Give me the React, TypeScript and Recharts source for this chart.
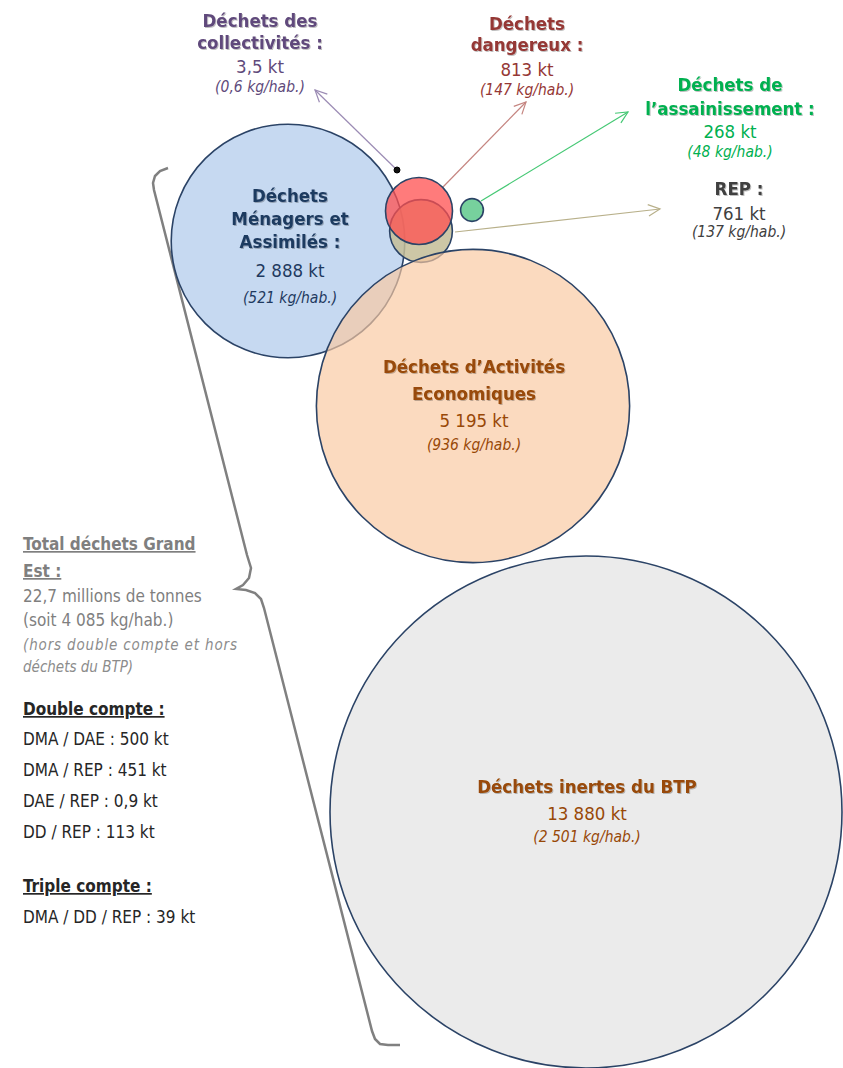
import React from 'react';
import { ScatterChart, Scatter, XAxis, YAxis, ZAxis, ReferenceLine } from 'recharts';

const W = 843;
const H = 1068;
const FONT = "'DejaVu Sans Condensed', 'DejaVu Sans', sans-serif";

// main deposits (kt) - bubble area proportional to tonnage
const stockKeys = ['DMA', 'DAE', 'BTP'];
const stockKt = [2888, 5195, 13880];
const stockKgHab = [521, 936, 2501];
const stockX = [288, 473, 586];
const stockY = [241, 406, 812];

// smaller flows (kt) - drawn with radius proportional to tonnage
const fluxKeys = ['ASS', 'REP', 'DD', 'COL'];
const fluxKt = [268, 761, 813, 3.5];
const fluxKgHab = [48, 137, 147, 0.6];
const fluxX = [472, 421, 419, 397];
const fluxY = [210, 231, 211, 170];

// totals and overlaps
const totalMt = 22.7;
const totalKgHab = 4085;
const doubleLabels = ['DMA / DAE', 'DMA / REP', 'DAE / REP', 'DD / REP'];
const doubleKt = [500, 451, 0.9, 113];
const tripleLabels = ['DMA / DD / REP'];
const tripleKt = [39];

// curly brace path (same chart coordinates)
const braceX = [168, 160, 155, 153, 154, 247, 251, 249, 243, 236, 246, 255, 261, 264, 372, 375, 380, 388, 400];
const braceY = [168, 171, 176, 183, 190, 555, 568, 578, 585, 589, 590, 593, 599, 608, 1031, 1039, 1044, 1045, 1045];

const styles: Record<string, { fill: string; opacity: number; stroke: string; text: string; arrow?: string }> = {
  DMA: { fill: '#c6d9f1', opacity: 1, stroke: '#2b4366', text: '#1f3a60' },
  DAE: { fill: '#f9c9a0', opacity: 0.68, stroke: '#2b4366', text: '#984807' },
  BTP: { fill: '#ebebeb', opacity: 1, stroke: '#2b4366', text: '#984807' },
  ASS: { fill: '#77d19d', opacity: 1, stroke: '#2b4366', text: '#00b050', arrow: '#45c874' },
  REP: { fill: '#c4bd97', opacity: 0.85, stroke: '#2b4366', text: '#404040', arrow: '#b8b08a' },
  DD: { fill: '#ff4f4f', opacity: 0.75, stroke: '#2b4366', text: '#953735', arrow: '#c58580' },
  COL: { fill: '#111111', opacity: 1, stroke: '#000000', text: '#604a7b', arrow: '#9b8bb4' },
};

// arrow tips, in the same order as the flux arrays
const arrowFromX = [481, 455, 443, 397];
const arrowFromY = [201, 232, 187, 170];
const arrowToX = [628, 660, 526, 315];
const arrowToY = [112, 209, 102, 90];

const fmt = (n: number) => {
  const [i, d] = String(n).split('.');
  const int = i.replace(/\B(?=(\d{3})+(?!\d))/g, ' ');
  return d ? `${int},${d}` : int;
};

const stockRows = stockKeys.map((k, i) => ({ key: k, x: stockX[i], y: stockY[i], z: stockKt[i] }));
const fluxRows = fluxKeys.map((k, i) => ({ key: k, x: fluxX[i], y: fluxY[i], z: fluxKt[i] * fluxKt[i] }));
const braceRows = braceX.map((x, i) => ({ x, y: braceY[i] }));
const byKey = (k: string) => [...stockRows, ...fluxRows].find((r) => r.key === k)!;

const Bubble = (p: any) => {
  const s = styles[p.payload.key];
  const r = p.width ? p.width / 2 : Math.sqrt(p.size / Math.PI);
  return (
    <g>
      <circle cx={p.cx} cy={p.cy} r={r} fill={s.fill} fillOpacity={s.opacity} stroke="none" />
      <circle cx={p.cx} cy={p.cy} r={r} fill="none" stroke={s.stroke} strokeWidth={p.payload.key === 'COL' ? 1 : 1.6} />
    </g>
  );
};

const arrowShape = (color: string) => (p: any) => {
  const { x1, y1, x2, y2 } = p;
  const a = Math.atan2(y2 - y1, x2 - x1);
  const L = 13;
  const s = 0.45;
  const pts = `${x2 - L * Math.cos(a - s)},${y2 - L * Math.sin(a - s)} ${x2},${y2} ${x2 - L * Math.cos(a + s)},${y2 - L * Math.sin(a + s)}`;
  return (
    <g>
      <line x1={x1} y1={y1} x2={x2} y2={y2} stroke={color} strokeWidth={1.2} />
      <polyline points={pts} fill="none" stroke={color} strokeWidth={1.2} />
    </g>
  );
};

type Ln = { t: string; y: number; k: 'b' | 'r' | 'i' };
const sz = { b: 18.5, r: 18.5, i: 15.5 };

const Block = ({ x, color, lines }: { x: number; color: string; lines: Ln[] }) => (
  <g>
    {lines.map((l, i) => (
      <text
        key={i}
        x={x}
        y={l.y}
        textAnchor="middle"
        fill={color}
        fontSize={sz[l.k]}
        fontWeight={l.k === 'b' ? 'bold' : 'normal'}
        fontStyle={l.k === 'i' ? 'italic' : 'normal'}
        filter={l.k === 'b' ? 'url(#soft)' : undefined}
      >
        {l.t}
      </text>
    ))}
  </g>
);

const kt = (n: number) => `${fmt(n)} kt`;
const kg = (n: number) => `(${fmt(n)} kg/hab.)`;

export default function App() {
  const drawOrder = ['DMA', 'REP', 'DD', 'ASS', 'DAE', 'BTP', 'COL'];
  return (
    <div style={{ position: 'absolute', left: 0, top: 0, width: W, height: H, background: '#fff', fontFamily: FONT }}>
      <ScatterChart width={W} height={H} margin={{ top: 0, right: 0, bottom: 0, left: 0 }}>
        <XAxis type="number" dataKey="x" domain={[0, W]} hide allowDataOverflow />
        <YAxis type="number" dataKey="y" domain={[0, H]} reversed hide allowDataOverflow />
        <ZAxis zAxisId="stock" type="number" dataKey="z" domain={[0, 13880]} range={[0, Math.PI * 256 * 256]} />
        <ZAxis zAxisId="flux" type="number" dataKey="z" domain={[0, 813 * 813]} range={[28, Math.PI * 33.5 * 33.5]} />
        {fluxKeys.map((k, i) => (
          <ReferenceLine
            key={`a-${k}`}
            segment={[
              { x: arrowFromX[i], y: arrowFromY[i] },
              { x: arrowToX[i], y: arrowToY[i] },
            ]}
            shape={arrowShape(styles[k].arrow!)}
            ifOverflow="visible"
          />
        ))}
        <Scatter
          data={braceRows}
          line={{ stroke: '#808080', strokeWidth: 2.5 }}
          lineType="joint"
          shape={() => <g />}
          isAnimationActive={false}
        />
        {drawOrder.map((k) => (
          <Scatter
            key={k}
            name={k}
            data={[byKey(k)]}
            zAxisId={stockKeys.includes(k) ? 'stock' : 'flux'}
            shape={Bubble}
            isAnimationActive={false}
          />
        ))}
      </ScatterChart>

      <svg width={W} height={H} style={{ position: 'absolute', left: 0, top: 0, pointerEvents: 'none', fontFamily: FONT, fontStretch: 'condensed' }}>
        <defs>
          <filter id="soft" x="-5%" y="-20%" width="110%" height="140%">
            <feDropShadow dx="1" dy="1" stdDeviation="0.6" floodColor="#000" floodOpacity="0.25" />
          </filter>
        </defs>
        <Block x={260} color={styles.COL.text} lines={[
          { t: 'Déchets des', y: 27, k: 'b' },
          { t: 'collectivités :', y: 49, k: 'b' },
          { t: kt(fluxKt[3]), y: 73, k: 'r' },
          { t: kg(fluxKgHab[3]), y: 92, k: 'i' },
        ]} />
        <Block x={527} color={styles.DD.text} lines={[
          { t: 'Déchets', y: 30, k: 'b' },
          { t: 'dangereux :', y: 51, k: 'b' },
          { t: kt(fluxKt[2]), y: 76, k: 'r' },
          { t: kg(fluxKgHab[2]), y: 95, k: 'i' },
        ]} />
        <Block x={730} color={styles.ASS.text} lines={[
          { t: 'Déchets de', y: 91, k: 'b' },
          { t: 'l’assainissement :', y: 115, k: 'b' },
          { t: kt(fluxKt[0]), y: 138, k: 'r' },
          { t: kg(fluxKgHab[0]), y: 157, k: 'i' },
        ]} />
        <Block x={739} color={styles.REP.text} lines={[
          { t: 'REP :', y: 195, k: 'b' },
          { t: kt(fluxKt[1]), y: 220, k: 'r' },
          { t: kg(fluxKgHab[1]), y: 237, k: 'i' },
        ]} />
        <Block x={290} color={styles.DMA.text} lines={[
          { t: 'Déchets', y: 202, k: 'b' },
          { t: 'Ménagers et', y: 225, k: 'b' },
          { t: 'Assimilés :', y: 248, k: 'b' },
          { t: kt(stockKt[0]), y: 277, k: 'r' },
          { t: kg(stockKgHab[0]), y: 303, k: 'i' },
        ]} />
        <Block x={474} color={styles.DAE.text} lines={[
          { t: 'Déchets d’Activités', y: 373, k: 'b' },
          { t: 'Economiques', y: 400, k: 'b' },
          { t: kt(stockKt[1]), y: 427, k: 'r' },
          { t: kg(stockKgHab[1]), y: 450, k: 'i' },
        ]} />
        <Block x={587} color={styles.BTP.text} lines={[
          { t: 'Déchets inertes du BTP', y: 793, k: 'b' },
          { t: kt(stockKt[2]), y: 820, k: 'r' },
          { t: kg(stockKgHab[2]), y: 842, k: 'i' },
        ]} />

        <g fontSize={17}>
          <text x={23} y={550} fill="#7f7f7f" fontWeight="bold" textDecoration="underline">Total déchets Grand</text>
          <text x={23} y={577} fill="#7f7f7f" fontWeight="bold" textDecoration="underline">Est :</text>
          <text x={23} y={602} fill="#7f7f7f">{`${fmt(totalMt)} millions de tonnes`}</text>
          <text x={23} y={626} fill="#7f7f7f">{`(soit ${fmt(totalKgHab)} kg/hab.)`}</text>
          <text x={23} y={650} fill="#8c8c8c" fontStyle="italic" fontSize={15} textLength={214} lengthAdjust="spacing">(hors double compte et hors</text>
          <text x={23} y={672} fill="#8c8c8c" fontStyle="italic" fontSize={15}>déchets du BTP)</text>
          <text x={23} y={715} fill="#262626" fontWeight="bold" textDecoration="underline">Double compte :</text>
          {doubleLabels.map((l, i) => (
            <text key={l} x={23} y={745 + i * 31} fill="#262626">{`${l} : ${kt(doubleKt[i])}`}</text>
          ))}
          <text x={23} y={892} fill="#262626" fontWeight="bold" textDecoration="underline">Triple compte :</text>
          {tripleLabels.map((l, i) => (
            <text key={l} x={23} y={923 + i * 31} fill="#262626">{`${l} : ${kt(tripleKt[i])}`}</text>
          ))}
        </g>
      </svg>
    </div>
  );
}
